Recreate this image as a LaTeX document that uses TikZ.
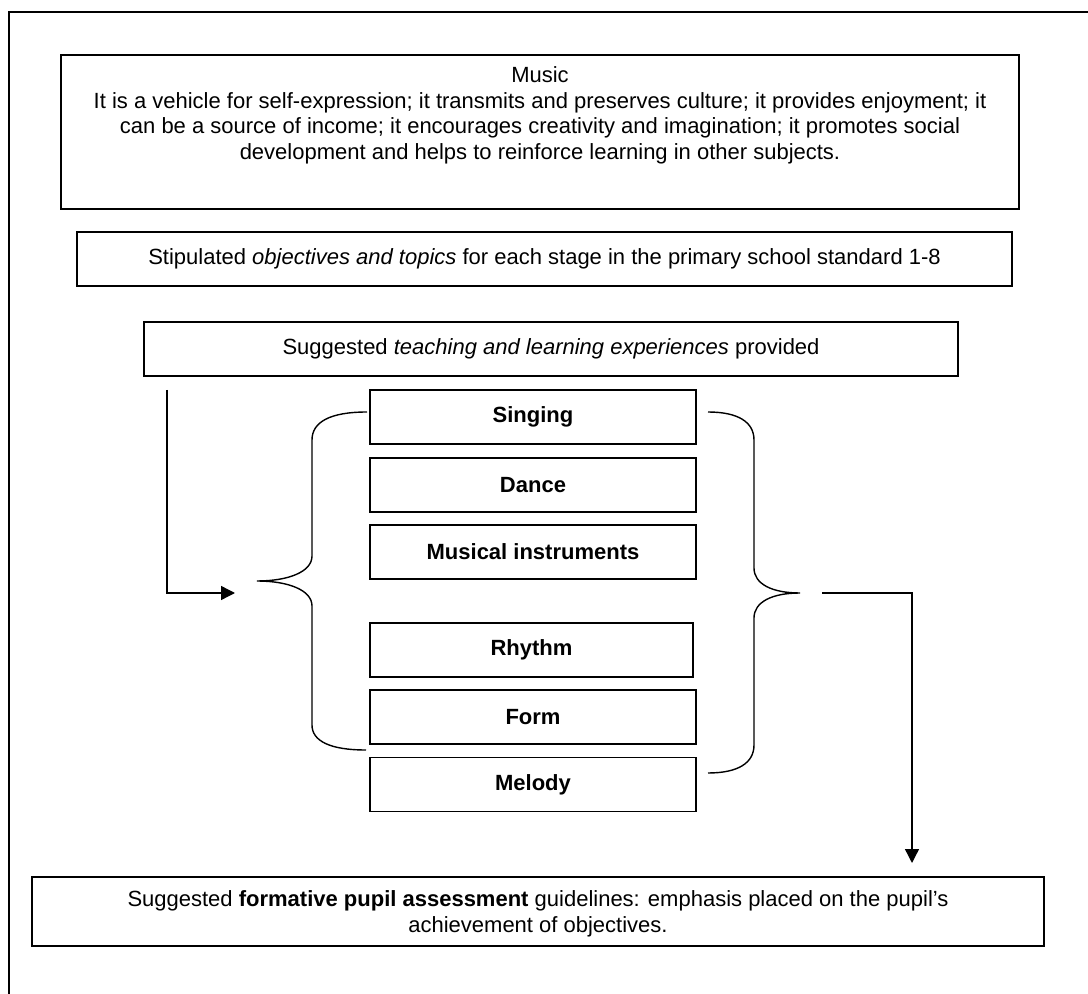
\documentclass[tikz,border=0pt]{standalone}
\usepackage{fontspec}
\setmainfont{Liberation Sans}
\usetikzlibrary{arrows.meta}
\begin{document}
\begin{tikzpicture}[x=0.5pt,y=-0.5pt,
  line width=0.7pt,
  box/.style={draw, line width=0.7pt, rectangle, inner sep=0pt, minimum height=27pt, font=\fontsize{11}{12.75}\selectfont},
  smallbox/.style={box, minimum width=163pt, font=\bfseries\fontsize{11}{12.75}\selectfont},
  txt/.style={align=center, inner sep=0pt, font=\fontsize{11}{12.75}\selectfont},
  arr/.style={-{Triangle[length=7pt,width=7pt]}, line width=0.7pt},
  brace/.style={line width=0.7pt}]
\useasboundingbox (0,0) rectangle (1088,994);
\clip (0,0) rectangle (1088,994);
\fill[white] (0,0) rectangle (1088,994);
% outer frame
\draw (9,1000) -- (9,12) -- (1100,12);
% music box
\node[box, minimum width=479pt, minimum height=77pt] (music) at (540,132) {};
\node[txt, anchor=north] (musictext) at (540,66) {Music\\It is a vehicle for self-expression; it transmits and preserves culture; it provides enjoyment; it\\can be a source of income; it encourages creativity and imagination; it promotes social\\development and helps to reinforce learning in other subjects.};
% stipulated
\node[box, minimum width=467.5pt] (stip) at (544.5,259) {\raisebox{1pt}{Stipulated \textit{objectives and topics} for each stage in the primary school standard 1-8}};
% teaching
\node[box, minimum width=407pt] (teach) at (551,349) {\raisebox{1.5pt}{Suggested \textit{teaching and learning experiences} provided}};
% activity boxes
\node[smallbox] (singing) at (533,417) {\raisebox{1.5pt}{Singing}};
\node[smallbox] (dance) at (533,485) {Dance};
\node[smallbox] (instr) at (533,552) {Musical instruments};
\node[smallbox, minimum width=161.5pt] (rhythm) at (531.5,650) {Rhythm};
\node[smallbox] (form) at (533,717) {Form};
\node[smallbox] (melody) at (533,784.5) {Melody};
% braces
\draw[brace] (367,412) .. controls (330,412) and (312,422) .. (312,440) -- (312,556)
  .. controls (312,572) and (288,581) .. (257,581)
  .. controls (288,581) and (312,590) .. (312,606) -- (312,725)
  .. controls (312,741) and (330,750) .. (366,750);
\draw[brace] (708,412) .. controls (738,412) and (754,422) .. (754,440) -- (754,568)
  .. controls (754,584) and (772,593) .. (800,593)
  .. controls (772,593) and (754,602) .. (754,618) -- (754,745)
  .. controls (754,763) and (738,773) .. (708,773);
% bottom box
\node[box, minimum width=506pt, minimum height=34.5pt] (assess) at (538,911.5) {};
\node[txt, anchor=north] (assesstext) at (538,890) {Suggested \textbf{formative pupil assessment} guidelines: emphasis placed on the pupil’s\\achievement of objectives.};
% arrows
\coordinate (la) at (167,390);
\coordinate (lb) at (235,593);
\coordinate (ra) at (822,593);
\coordinate (rb) at (912,863);
\draw[arr] (la) |- (lb);
\draw[arr] (ra) -| (rb);
\end{tikzpicture}
\end{document}
